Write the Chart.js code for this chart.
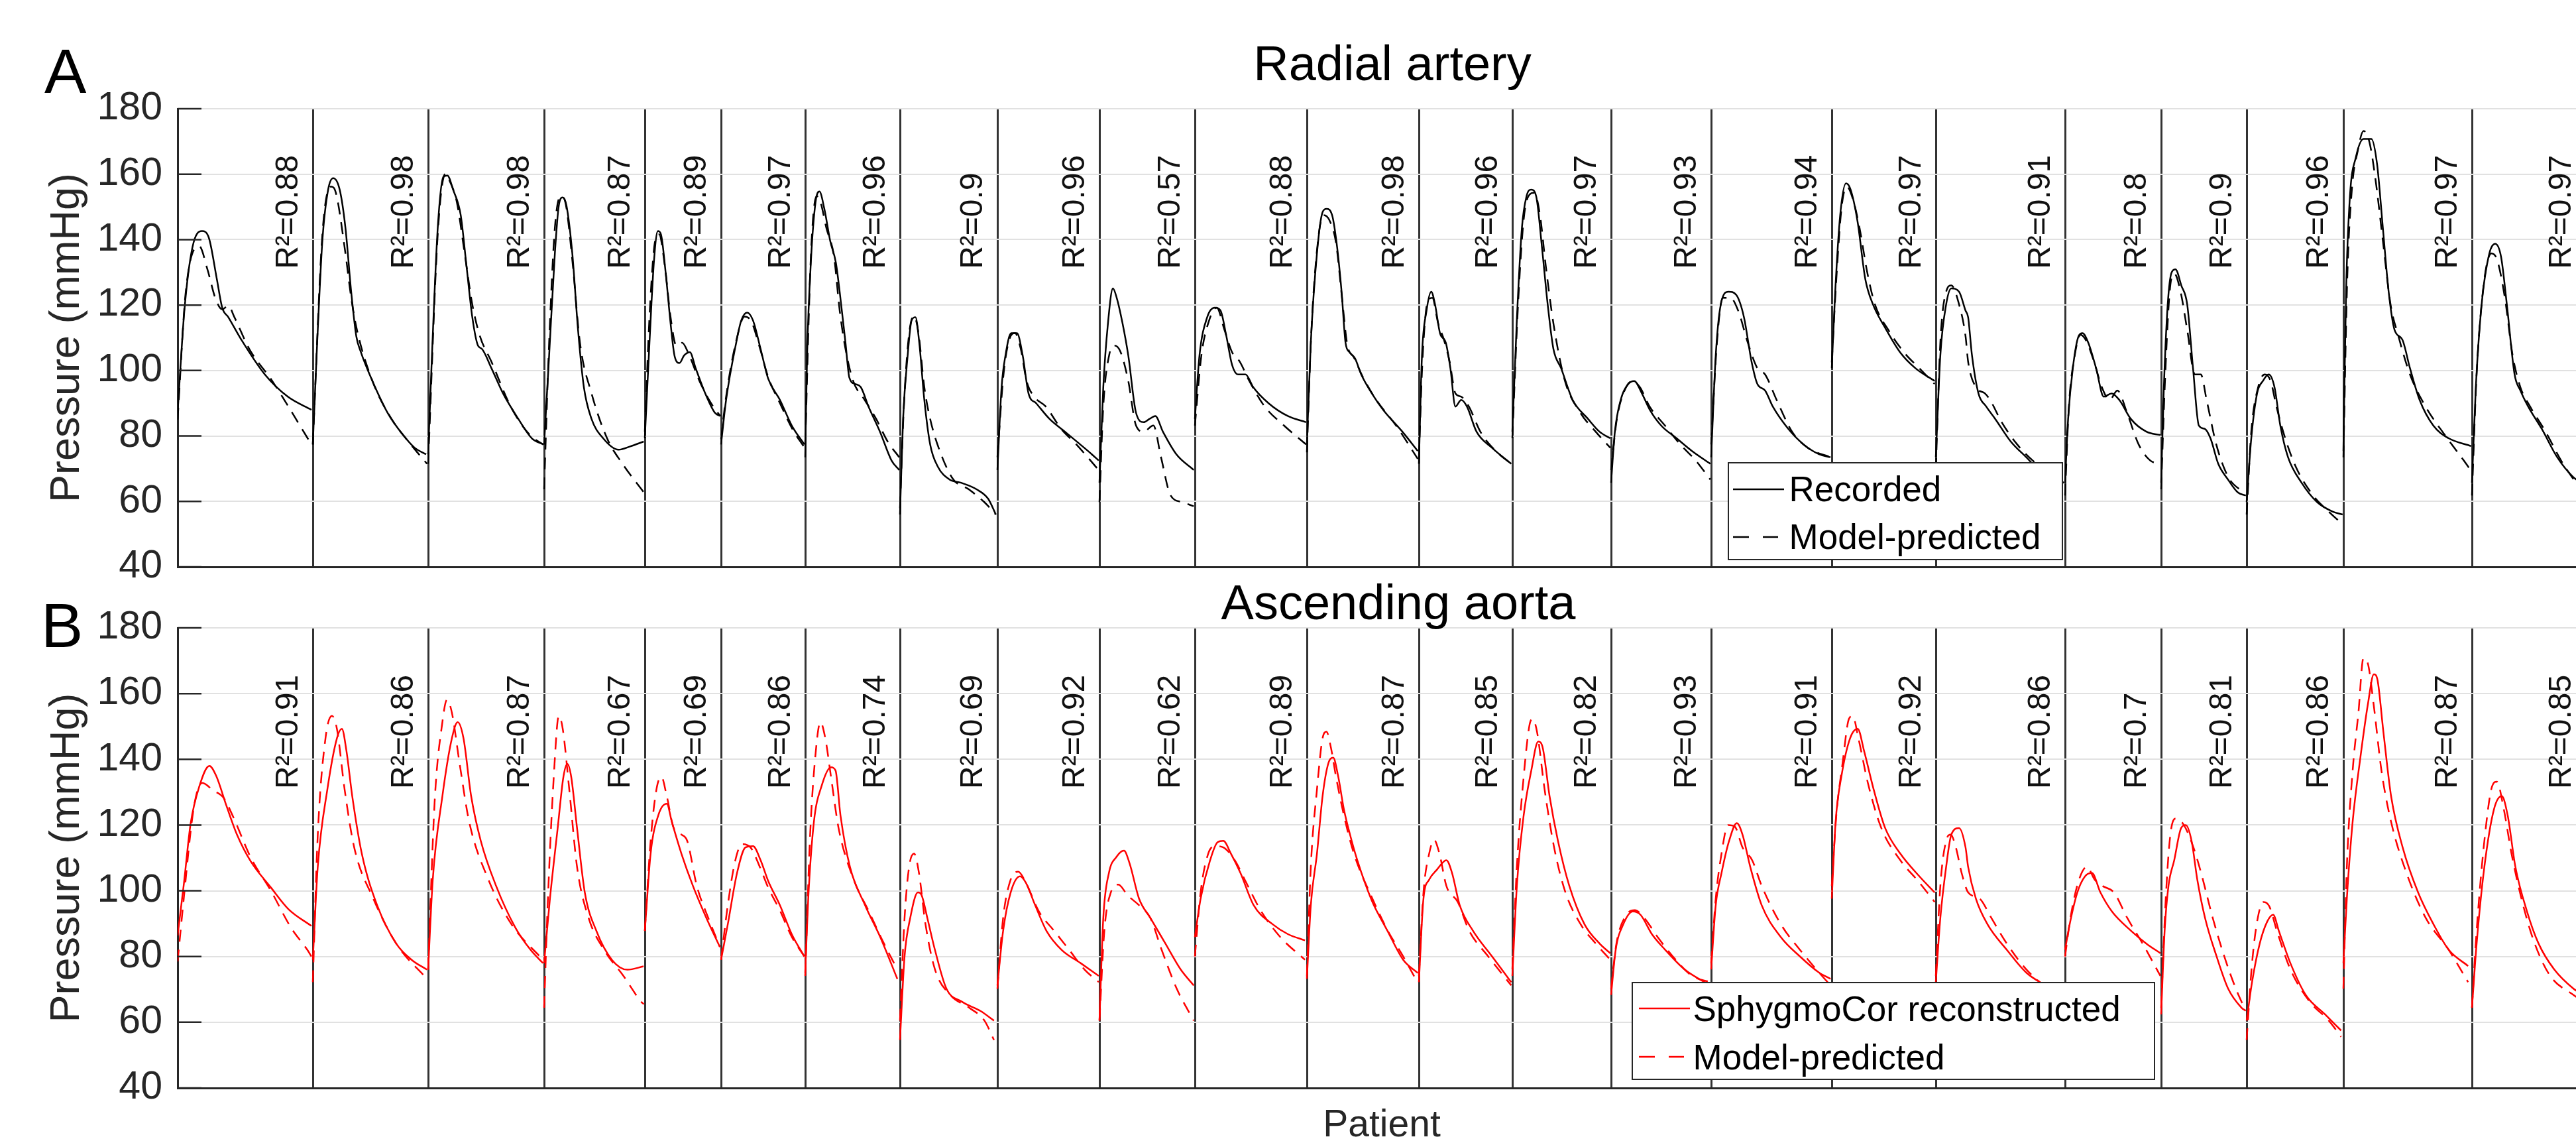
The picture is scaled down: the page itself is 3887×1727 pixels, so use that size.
<!DOCTYPE html>
<html lang="en">
<head>
    <meta charset="UTF-8">
    <title>Radial artery and ascending aorta pressure waveforms</title>
    <script src="https://cdn.jsdelivr.net/npm/chart.js"></script>
    <style>
        html, body { margin: 0; padding: 0; background: #fff; overflow: hidden; }
        body { width: 3887px; height: 1727px; position: relative; font-family: 'Liberation Sans', Arial, sans-serif; }
        canvas { position: absolute; left: 0; }
        #chart-a { top: 0; }
        #chart-b { top: 860px; }
        .panel-letter { position: absolute; font-size: 95px; line-height: 95px; color: #000; }
        .panel-title { position: absolute; font-size: 74px; line-height: 74px; color: #000; transform: translateX(-50%); white-space: nowrap; }
        .legend { position: absolute; background: #fff; border: 2.5px solid #262626; box-sizing: border-box; z-index: 2; }
        .legend .row { position: absolute; height: 53px; line-height: 53px; font-size: 53px; white-space: nowrap; color: #000; }
        .legend svg { position: absolute; }
    </style>
</head>
<body>
    <canvas id="chart-a" width="3912" height="900" style="width:3912px;height:900px"></canvas>
    <canvas id="chart-b" width="3912" height="867" style="width:3912px;height:867px"></canvas>

    <div class="panel-letter" style="left:67px;top:60px">A</div>
    <div class="panel-letter" style="left:62px;top:896px">B</div>
    <div class="panel-title" style="left:2101px;top:59px">Radial artery</div>
    <div class="panel-title" style="left:2110px;top:872px">Ascending aorta</div>

    <!-- legends sit inside the plot, like the original -->
    <div class="legend" style="left:2607px;top:697px;width:506px;height:148px">
        <svg style="left:5.5px;top:35.5px" width="77" height="6"><line x1="0" y1="3" x2="77" y2="3" stroke="#000" stroke-width="2.5"/></svg>
        <div class="row" style="left:90.5px;top:12px">Recorded</div>
        <svg style="left:5.5px;top:107.5px" width="77" height="6"><line x1="0" y1="3" x2="68" y2="3" stroke="#000" stroke-width="2.5" stroke-dasharray="24 21"/></svg>
        <div class="row" style="left:90.5px;top:84px">Model-predicted</div>
    </div>
    <div class="legend" style="left:2462px;top:1481px;width:790px;height:148px">
        <svg style="left:8.5px;top:35px" width="77" height="6"><line x1="0" y1="3" x2="77" y2="3" stroke="#ff0000" stroke-width="2.5"/></svg>
        <div class="row" style="left:90.5px;top:11.5px">SphygmoCor reconstructed</div>
        <svg style="left:8.5px;top:108px" width="77" height="6"><line x1="0" y1="3" x2="68" y2="3" stroke="#ff0000" stroke-width="2.5" stroke-dasharray="24 21"/></svg>
        <div class="row" style="left:90.5px;top:84.5px">Model-predicted</div>
    </div>

    <script>
        // width of each patient's beat on the x axis (no units shown)
        const beatWidths = [204, 174, 175, 152, 115, 127, 143, 147, 154, 144, 169, 169, 141, 149, 151, 182, 157, 195, 145, 129, 146, 194, 172];
        const pressureTicks = [40, 60, 80, 100, 120, 140, 160, 180];
        const radialR2 = [0.88, 0.98, 0.98, 0.87, 0.89, 0.97, 0.96, 0.9, 0.96, 0.57, 0.88, 0.98, 0.96, 0.97, 0.93, 0.94, 0.97, 0.91, 0.8, 0.9, 0.96, 0.97, 0.97];
        const aorticR2 = [0.91, 0.86, 0.87, 0.67, 0.69, 0.86, 0.74, 0.69, 0.92, 0.62, 0.89, 0.87, 0.85, 0.82, 0.93, 0.91, 0.92, 0.86, 0.7, 0.81, 0.86, 0.87, 0.85];

        // one list per patient: [fraction of beat, pressure mmHg]
        const radialRecorded = [
            [[0,87.1],[.05,118.3],[.11,137.7],[.18,142.6],[.23,140.7],[.29,128],[.33,119.2],[.375,116.3],[.47,109.5],[.645,98.8],[.815,92],[.99,88]],
            [[0,77.4],[.033,104.6],[.083,139.7],[.133,155.3],[.177,158.8],[.233,155.3],[.283,143.6],[.333,124],[.377,110.5],[.417,105.6],[.517,96.8],[.65,87],[.783,80.3],[.883,76.4],[.983,74.4]],
            [[0,74.4],[.033,104.6],[.083,143.6],[.132,159.2],[.166,159.6],[.215,155.3],[.281,147.5],[.331,131.9],[.381,116.3],[.43,107.6],[.464,106.6],[.546,100.7],[.646,93],[.778,85.2],[.894,79.3],[.993,77.4]],
            [[0,77.4],[.05,104.6],[.107,135.8],[.146,150.4],[.184,152.9],[.222,150.4],[.28,135.8],[.337,112.4],[.395,94.9],[.471,85.2],[.586,79.3],[.739,75.8],[.854,76.8],[.989,78.3]],
            [[0,79.3],[.061,108.5],[.121,133.8],[.172,142.6],[.212,141.6],[.273,130],[.338,114.4],[.389,104.6],[.455,102.3],[.515,104.6],[.591,105.6],[.667,100.7],[.793,93],[.919,87.1],[.99,86.1]],
            [[0,77.4],[.06,91],[.18,108.5],[.24,115.3],[.31,117.7],[.38,115.3],[.47,106.6],[.56,97.5],[.70,91],[.84,83.2],[.99,77.4]],
            [[0,73.5],[.02,104.6],[.061,133.8],[.109,151.4],[.15,154.7],[.202,149.4],[.263,139.7],[.324,132.9],[.364,124],[.425,108.5],[.466,97.8],[.526,95.9],[.587,94.9],[.668,89],[.789,81.3],[.911,72.5],[.992,69.6]],
            [[0,56],[.032,85.2],[.079,104.6],[.119,115.3],[.159,116.3],[.198,108.5],[.25,91],[.31,77.4],[.389,70.6],[.508,66.7],[.627,65.7],[.786,63.7],[.905,60.8],[.984,56]],
            [[0,69.6],[.041,94.9],[.079,104.6],[.135,111.4],[.192,111.4],[.248,104.6],[.305,93],[.38,90],[.511,85.2],[.662,81.3],[.812,77.4],[.925,74.4],[.992,72.5]],
            [[0,65.7],[.04,94.9],[.089,114.4],[.141,125.1],[.181,122.2],[.242,114.4],[.302,104.6],[.383,87.1],[.464,84.2],[.524,85.2],[.585,86.1],[.665,81.3],[.806,74.4],[.988,69.6]],
            [[0,85.2],[.041,104.6],[.11,116.3],[.178,119.2],[.229,118.3],[.281,110.5],[.332,101.7],[.384,98.8],[.452,98.8],[.521,94.9],[.658,90],[.829,86.1],[.993,84.2]],
            [[0,77.4],[.035,108.5],[.09,135.8],[.14,148.4],[.175,149.4],[.225,147.5],[.27,137.7],[.31,124],[.345,108.5],[.38,105.6],[.43,103.7],[.485,98.8],[.58,93],[.68,88],[.86,81],[.99,75.4]],
            [[0,71.5],[.033,104.6],[.082,118.3],[.132,124.1],[.173,120.2],[.226,111.4],[.288,108.5],[.337,100.7],[.391,89],[.453,91],[.514,89],[.617,81.3],[.782,76.4],[.988,71.5]],
            [[0,81.3],[.047,116.3],[.097,143.6],[.144,153.3],[.191,155.3],[.241,153.3],[.3,137.7],[.358,120.2],[.416,106.6],[.494,100.7],[.611,91],[.767,85.2],[.883,81.3],[.992,79.3]],
            [[0,65.7],[.038,81.3],[.096,91],[.173,95.9],[.231,96.8],[.308,93],[.385,88.1],[.5,83.2],[.654,79.3],[.808,75.4],[.992,71.5]],
            [[0,73.5],[.038,104.6],[.08,120.2],[.144,124.1],[.208,123.1],[.272,116.3],[.335,102.7],[.383,95.9],[.447,93.9],[.511,89],[.639,82.2],[.767,77.4],[.895,74.4],[.99,73.5]],
            [[0,100.7],[.033,124],[.081,147.5],[.137,157.2],[.181,155.3],[.248,145.5],[.322,128],[.396,120.2],[.507,113.4],[.656,105.6],[.804,100.7],[.989,96.8]],
            [[0,73.5],[.035,104.6],[.08,120.2],[.12,125.1],[.18,124.1],[.23,118.3],[.25,116.3],[.28,104.6],[.33,93],[.39,89],[.46,85.2],[.58,78.3],[.70,73.5],[.85,67.6],[.99,65.7]],
            [[0,65.7],[.032,85.2],[.081,100.7],[.141,110.5],[.181,111.4],[.242,108.5],[.323,100.7],[.403,92],[.484,93],[.565,91],[.685,85.2],[.847,81.3],[.992,80.3]],
            [[0,65.7],[.032,94.9],[.077,120.2],[.123,130],[.168,130.9],[.236,126],[.305,120.2],[.373,100.7],[.441,83.2],[.509,82.2],[.577,79.3],[.668,71.5],[.782,66.7],[.895,62.8],[.991,61.8]],
            [[0,59.8],[.048,79.3],[.108,93],[.168,96.8],[.228,98.8],[.288,94.9],[.348,83.2],[.428,73.5],[.568,65.7],[.728,59.8],[.888,56.9],[.992,56]],
            [[0,75.4],[.021,124.1],[.051,153.3],[.096,165],[.157,170.8],[.217,170.8],[.262,163.1],[.307,143.6],[.352,124.1],[.398,112.4],[.458,109.5],[.518,100.7],[.593,91],[.699,83.2],[.819,79.3],[.994,76.9]],
            [[0,65.7],[.034,94.9],[.085,120.2],[.153,135.8],[.204,138.7],[.255,134.8],[.306,120.2],[.374,98.8],[.425,93.9],[.493,89],[.612,82.2],[.748,73.5],[.884,67.6],[.99,65]]
        ];

        const radialModel = [
            [[0,85],[.06,124],[.16,138],[.22,131],[.28,122],[.33,118.7],[.375,119.8],[.42,116.3],[.53,106.6],[.70,96.8],[.99,77.4]],
            [[0,77.4],[.083,141.6],[.157,156.2],[.2,154.3],[.283,135.8],[.333,122.2],[.383,112.4],[.517,96.8],[.683,85.2],[.85,77.4],[.99,71.5]],
            [[0,71.5],[.083,141.6],[.149,160.1],[.182,158.2],[.248,151.4],[.315,135.8],[.381,120.2],[.447,110.5],[.546,102.7],[.712,89],[.877,80.3],[.993,77.4]],
            [[0,63.7],[.05,108.5],[.107,143.6],[.165,153.3],[.211,151.4],[.28,133.8],[.356,108.5],[.471,93],[.625,79.3],[.778,71.5],[.989,62.8]],
            [[0,81.3],[.061,116.3],[.136,139.7],[.187,141.6],[.263,131.9],[.338,116.3],[.414,107.6],[.49,108.5],[.566,105.6],[.717,96.8],[.869,90],[.99,86.1]],
            [[0,79],[.06,92],[.18,109],[.28,116.5],[.36,115],[.46,107],[.56,98],[.70,90],[.85,82],[.99,76.5]],
            [[0,77.4],[.061,135.8],[.121,153.3],[.162,151.4],[.223,143.6],[.304,134.8],[.364,118.3],[.425,106.6],[.506,96.8],[.628,91],[.749,85.2],[.87,78.3],[.992,73.5]],
            [[0,57.9],[.04,89],[.091,110.5],[.143,116.7],[.19,111.4],[.25,94.9],[.31,85.2],[.409,75.4],[.548,66.7],[.706,63.7],[.865,59.8],[.984,56]],
            [[0,73.5],[.06,98.8],[.117,109.5],[.173,111.4],[.229,106.6],[.286,96.8],[.361,92],[.474,89],[.624,82.2],[.774,77.4],[.992,69.6]],
            [[0,59.8],[.04,89],[.101,104.6],[.161,107.6],[.222,105.6],[.302,96.8],[.383,83.2],[.464,81.3],[.565,83.2],[.645,73.5],[.746,61.8],[.867,59.8],[.988,58.5]],
            [[0,83.2],[.058,104.6],[.127,115.3],[.195,119.2],[.264,112.4],[.332,105.6],[.401,102.7],[.486,96.8],[.623,89],[.795,83.2],[.993,77.4]],
            [[0,75],[.04,112],[.10,140],[.15,147.5],[.20,146],[.26,139],[.32,120],[.36,108],[.42,104],[.50,98],[.62,91],[.80,83],[.99,73]],
            [[0,73.5],[.041,104.6],[.095,121.2],[.144,122.2],[.206,114.4],[.267,109.5],[.329,102.7],[.391,93],[.453,92],[.535,89],[.658,81.3],[.823,75.4],[.988,71.5]],
            [[0,79.3],[.058,120.2],[.113,145.6],[.163,153.3],[.222,154.3],[.28,147.5],[.339,131.9],[.416,114.4],[.533,96.8],[.689,87.1],[.844,81.3],[.992,76.4]],
            [[0,69.6],[.058,85.2],[.135,93.9],[.212,96.8],[.288,94.9],[.385,89],[.538,83.2],[.692,77.4],[.846,72.5],[.992,66.7]],
            [[0,77.4],[.048,108.5],[.096,122.2],[.16,122.2],[.224,118.3],[.304,108.5],[.383,100.7],[.447,98.8],[.543,91],[.671,81.3],[.799,76.4],[.99,73.5]],
            [[0,102.5],[.044,128],[.093,149.4],[.144,156.2],[.204,152.3],[.267,143.6],[.341,130],[.415,120.2],[.544,112.4],[.693,105.6],[.841,100.7],[.989,95.9]],
            [[0,69.6],[.035,108.5],[.08,124.1],[.12,126],[.18,120.2],[.23,110.5],[.25,102.7],[.31,94.9],[.38,93],[.42,91],[.51,84.2],[.63,77.4],[.75,72.5],[.99,65.7]],
            [[0,61.8],[.04,89],[.101,104.6],[.161,110.9],[.222,109],[.302,102.7],[.383,94.9],[.464,91],[.544,93.9],[.645,87.1],[.766,77.4],[.887,72.5],[.992,71.5]],
            [[0,63.7],[.045,96.8],[.1,124.1],[.155,129.6],[.227,124.1],[.305,112.4],[.395,98.8],[.464,98.8],[.532,91],[.645,77.4],[.782,67.6],[.918,63.7],[.991,62.8]],
            [[0,56],[.048,81.3],[.12,95],[.188,98.8],[.248,96.8],[.308,89],[.388,80.3],[.508,70.6],[.688,61.8],[.848,56.9],[.992,53]],
            [[0,73.5],[.03,128],[.066,155.3],[.111,167],[.157,173.2],[.202,169.9],[.247,159.2],[.307,139.7],[.367,120.2],[.428,110.5],[.518,98.8],[.639,89],[.789,80.3],[.955,71.5],[.99,69.5]],
            [[0,61.8],[.041,98.8],[.102,126],[.17,135.8],[.221,133.8],[.289,122.2],[.357,104.6],[.425,94.9],[.51,89],[.646,81.3],[.782,72.5],[.912,65.7],[.99,62]]
        ];

        const aorticRecon = [
            [[0,86.4],[.046,102],[.096,120.4],[.16,131.7],[.235,138],[.285,135],[.36,126],[.44,117],[.54,109],[.69,101],[.82,94.4],[.99,89.3]],
            [[0,79],[.043,107.3],[.126,130.8],[.209,146.4],[.252,149.3],[.292,142.5],[.342,128.8],[.425,111.3],[.558,95.6],[.724,83.9],[.857,79],[.99,76]],
            [[0,76],[.04,103.4],[.123,128.8],[.205,146.4],[.255,151.3],[.305,146.4],[.371,128.8],[.454,115.2],[.586,101.5],[.752,88.8],[.884,82],[.99,78]],
            [[0,78],[.058,97.6],[.135,119.1],[.192,134.7],[.231,138.6],[.269,134.7],[.327,119.1],[.404,99.5],[.519,87.8],[.673,79],[.827,76],[.988,77]],
            [[0,87.8],[.076,111.3],[.177,123],[.288,126.5],[.354,121],[.48,111.3],[.631,101.5],[.808,91.7],[.985,82.9]],
            [[0,79],[.08,89.8],[.19,105.4],[.29,113.2],[.38,113.6],[.47,109.3],[.56,103],[.70,95.6],[.84,86.8],[.99,80]],
            [[0,75.1],[.032,97.6],[.092,121],[.172,131.8],[.272,137.6],[.32,136.6],[.372,123],[.472,107.3],[.632,95.6],[.792,85.9],[.972,73.2]],
            [[0,54.6],[.047,80],[.105,91.7],[.184,99.5],[.223,98.6],[.281,91.7],[.359,82],[.477,70.2],[.633,66.3],[.828,63.4],[.965,60.5]],
            [[0,71.2],[.056,87.8],[.13,99.5],[.222,104.4],[.278,102.5],[.37,95.6],[.481,87.8],[.63,82],[.815,78],[.993,74.1]],
            [[0,60.5],[.04,91.7],[.099,105.4],[.178,110.3],[.257,112.2],[.316,108.3],[.415,97.6],[.534,91.7],[.692,83.9],[.85,76.1],[.988,71.2]],
            [[0,85.9],[.051,97.6],[.136,109.3],[.203,114.8],[.254,115.2],[.322,111.3],[.407,105.4],[.525,95.6],[.695,89.8],[.831,86.8],[.983,84.9]],
            [[0,73.2],[.035,95.6],[.09,111.3],[.14,128.8],[.19,138.6],[.235,140.5],[.28,134.7],[.33,124.9],[.385,117.1],[.45,109.3],[.58,97],[.72,87.8],[.86,79],[.99,75]],
            [[0,72.2],[.049,97.6],[.11,103.4],[.192,106.4],[.294,109.3],[.355,105.4],[.437,95.6],[.58,87.8],[.784,80],[.988,72.2]],
            [[0,74.1],[.046,101.5],[.115,123],[.192,136.6],[.262,145.4],[.308,143.5],[.377,128.8],[.462,115.2],[.577,101.5],[.731,89.8],[.885,83.9],[.992,81]],
            [[0,68.3],[.046,82],[.122,89.8],[.218,93.7],[.294,92.7],[.408,86.8],[.542,82],[.733,76.1],[.992,71.2]],
            [[0,76.1],[.038,95.6],[.086,105.4],[.149,115.2],[.213,120.6],[.26,117.1],[.324,107.3],[.419,95.6],[.578,85.9],[.737,80],[.895,75.1],[.99,73.2]],
            [[0,97.6],[.037,121],[.092,134.7],[.176,146.4],[.249,149.3],[.311,142.5],[.403,130.8],[.513,119.1],[.659,111.3],[.842,104.4],[.989,99.5]],
            [[0,72.2],[.035,91.7],[.08,107.3],[.12,117.1],[.18,119.1],[.23,113.2],[.25,107.3],[.31,97.6],[.40,89.8],[.55,82],[.70,75.1],[.85,71.2],[.99,68.3]],
            [[0,82],[.048,89.8],[.128,99.5],[.208,104.4],[.28,105.4],[.368,99.5],[.488,93.7],[.688,87.8],[.848,83.9],[.992,81]],
            [[0,62.4],[.041,87.8],[.086,101.5],[.153,109.3],[.234,119.1],[.288,120],[.356,115.2],[.423,103.4],[.514,91.7],[.649,80],[.784,70.2],[.941,64.4],[.99,63.5]],
            [[0,60.5],[.056,72.2],[.135,83.9],[.214,90.7],[.274,92.7],[.333,87.8],[.452,78],[.611,68.3],[.81,62.4],[.976,57.5]],
            [[0,78],[.027,97.6],[.072,121],[.132,140.5],[.192,157.1],[.237,165.9],[.266,164],[.311,148.4],[.371,128.8],[.461,113.2],[.581,99.5],[.701,89.8],[.82,82],[.97,77.1]],
            [[0,64.4],[.041,83.9],[.109,107.3],[.194,124.9],[.262,128.8],[.313,123],[.381,107.3],[.483,93.7],[.585,83.9],[.721,76.1],[.891,70.2],[.99,68]]
        ];

        const aorticModel = [
            [[0,78.5],[.046,97.8],[.11,122.6],[.15,131],[.185,132.8],[.26,130.6],[.34,128.3],[.41,122.6],[.54,110.2],[.69,100],[.84,88.7],[.96,82],[.99,80]],
            [[0,72.2],[.043,117],[.11,146.4],[.166,153.2],[.209,149.3],[.276,130.8],[.359,113.2],[.525,97.6],[.724,83.9],[.99,73.2]],
            [[0,76],[.056,126.9],[.123,151.3],[.162,158.1],[.205,154.2],[.272,138.6],[.354,121],[.52,103.4],[.719,89.8],[.99,79]],
            [[0,64.4],[.038,97.6],[.096,134.7],[.146,153.2],[.185,149.3],[.25,130.8],[.327,107.3],[.442,91.7],[.596,82],[.788,74.1],[.962,66.3],[.99,65.5]],
            [[0,87.8],[.076,115.2],[.152,130.8],[.217,134.7],[.288,128.8],[.379,119.1],[.48,117.1],[.556,115.2],[.682,101.5],[.833,91.7],[.985,82.9]],
            [[0,79],[.08,95.6],[.17,109.3],[.25,114.2],[.35,113.2],[.46,107.3],[.56,101],[.70,94],[.84,86],[.99,80]],
            [[0,74.1],[.052,117.1],[.112,142.5],[.16,151.3],[.212,146.4],[.272,134.7],[.352,119.1],[.512,103.4],[.672,93.7],[.832,83.9],[.972,76.1]],
            [[0,60.5],[.047,91.7],[.094,107.3],[.145,111.3],[.195,105.4],[.262,89.8],[.359,76.1],[.516,68.3],[.711,64.4],[.867,60.5],[.965,54.6]],
            [[0,70.2],[.056,91.7],[.13,103.4],[.204,105.8],[.278,102.5],[.407,93.7],[.556,87.8],[.704,82],[.852,76.1],[.993,72.2]],
            [[0,60.5],[.051,87.8],[.119,99.5],[.198,101.9],[.296,98.6],[.415,95.6],[.534,91.7],[.652,82],[.81,70.2],[.988,60.5]],
            [[0,80],[.051,99.5],[.119,111.3],[.186,113.6],[.254,113.2],[.356,109.3],[.458,102.5],[.593,93.7],[.763,85.9],[.983,79]],
            [[0,74],[.035,107.3],[.09,130.8],[.14,146.4],[.175,148.4],[.215,143.5],[.26,134.7],[.33,123],[.42,111.3],[.58,98],[.72,88],[.86,80],[.99,72]],
            [[0,74.1],[.049,99.5],[.11,111.3],[.163,115.5],[.22,111.3],[.294,101.5],[.416,96.6],[.539,87.8],[.743,80],[.988,71.2]],
            [[0,76.1],[.046,107.3],[.115,134.7],[.173,150.3],[.204,152.3],[.25,148.4],[.327,130.8],[.423,113.2],[.538,99.5],[.692,89.8],[.846,83.9],[.992,79]],
            [[0,70.2],[.053,83.9],[.141,92.1],[.237,94.1],[.332,91.7],[.466,85.9],[.618,80],[.809,74.1],[.992,72.2]],
            [[0,78],[.038,97.6],[.086,111.3],[.14,120],[.197,119.5],[.26,113.2],[.34,109.3],[.419,101.5],[.578,89.8],[.737,82],[.895,75.1],[.99,71.2]],
            [[0,101.5],[.044,123],[.103,138.6],[.165,152.3],[.201,153.2],[.256,146.4],[.348,132.7],[.476,119.1],[.659,109.3],[.842,102.5],[.989,96.6]],
            [[0,74.1],[.035,101.5],[.08,115.2],[.115,117.1],[.155,113.2],[.20,105.4],[.25,99.5],[.34,97.6],[.43,91.7],[.55,83.9],[.70,76.1],[.99,66.3]],
            [[0,80],[.056,91.7],[.136,102.5],[.228,107.3],[.308,103.4],[.388,101.5],[.508,99.5],[.648,91.7],[.808,83.9],[.992,74.1]],
            [[0,64.4],[.054,97.6],[.108,117.1],[.176,122],[.266,120],[.378,113.2],[.468,105.4],[.604,91.7],[.739,80],[.874,70.2],[.973,64.4]],
            [[0,54.6],[.056,78],[.115,91.7],[.175,96.6],[.234,95.3],[.313,87.8],[.452,76.1],[.651,66.3],[.849,60.5],[.976,55.6]],
            [[0,70.2],[.027,107.3],[.072,136.6],[.117,154.2],[.156,170.8],[.192,168.9],[.237,156.2],[.296,136.6],[.371,121],[.491,105.4],[.641,91.7],[.82,82],[.97,72.2]],
            [[0,64.4],[.041,87.8],[.109,115.2],[.177,131.8],[.218,133.2],[.279,124.9],[.347,111.3],[.449,95.6],[.551,83.9],[.687,74.1],[.891,68.3],[.99,66]]
        ];

        // end of every beat, used for the separator lines and the R² labels
        const beatEnds = [];
        beatWidths.reduce((sum, w) => { beatEnds.push(sum + w); return sum + w; }, 0);
        const xMax = beatEnds[beatEnds.length - 1];

        // concatenate the beats, with a gap between patients so each beat is its own curve
        function buildSeries(beats) {
            const pts = [];
            let start = 0;
            beats.forEach((beat, i) => {
                beat.forEach(([f, p]) => pts.push({ x: start + f * beatWidths[i], y: p }));
                start += beatWidths[i];
                pts.push({ x: start, y: null });
            });
            return pts;
        }

        Chart.defaults.font.family = "'Liberation Sans', Arial, sans-serif";

        // MATLAB-style tick marks pointing into the plot
        const inwardTicks = {
            id: 'inwardTicks',
            afterDatasetsDraw(chart) {
                const { ctx, chartArea, scales: { y } } = chart;
                ctx.save();
                ctx.strokeStyle = '#262626';
                ctx.lineWidth = 2.5;
                y.ticks.forEach(t => {
                    const py = y.getPixelForValue(t.value);
                    ctx.beginPath();
                    ctx.moveTo(chartArea.left, py);
                    ctx.lineTo(chartArea.left + 36, py);
                    ctx.stroke();
                });
                ctx.restore();
            }
        };

        // rotated R² text just left of each separator
        const r2Labels = {
            id: 'r2Labels',
            afterDatasetsDraw(chart, args, opts) {
                const { ctx, scales: { x, y } } = chart;
                ctx.save();
                ctx.font = "48px 'Liberation Sans', Arial, sans-serif";
                ctx.fillStyle = '#111';
                ctx.textAlign = 'left';
                ctx.textBaseline = 'middle';
                opts.values.forEach((v, i) => {
                    const px = x.getPixelForValue(beatEnds[i]) - 36;
                    const py = y.getPixelForValue(opts.anchor);
                    ctx.save();
                    ctx.translate(px, py);
                    ctx.rotate(-Math.PI / 2);
                    ctx.fillText('R\u00b2=' + v, 0, 0);
                    ctx.restore();
                });
                ctx.restore();
            }
        };

        function makeChart(id, cfg) {
            return new Chart(document.getElementById(id), {
                type: 'line',
                data: {
                    datasets: [
                        { label: cfg.names[0], data: buildSeries(cfg.solid), borderColor: cfg.color, borderWidth: 2.5 },
                        { label: cfg.names[1], data: buildSeries(cfg.dashed), borderColor: cfg.color, borderWidth: 2.5, borderDash: [18, 12] }
                    ]
                },
                plugins: [inwardTicks, r2Labels],
                options: {
                    responsive: false,
                    devicePixelRatio: 1,
                    animation: false,
                    events: [],
                    spanGaps: false,
                    layout: { padding: { top: cfg.top, right: 10, left: 0, bottom: 0 } },
                    elements: {
                        point: { radius: 0 },
                        line: { cubicInterpolationMode: 'monotone', fill: false }
                    },
                    plugins: {
                        legend: { display: false },
                        tooltip: { enabled: false },
                        r2Labels: { values: cfg.r2, anchor: 131 }
                    },
                    scales: {
                        x: {
                            type: 'linear',
                            min: 0,
                            max: xMax,
                            afterBuildTicks: s => { s.ticks = beatEnds.map(v => ({ value: v })); },
                            afterFit: s => { s.height = cfg.xHeight; s.paddingLeft = 0; s.paddingRight = 0; },
                            ticks: { display: false },
                            grid: { color: '#333', lineWidth: 3, drawTicks: false },
                            border: { display: true, color: '#262626', width: 3 },
                            title: {
                                display: !!cfg.xTitle,
                                text: cfg.xTitle || '',
                                color: '#262626',
                                font: { size: 57, lineHeight: 1 },
                                padding: { top: 0, bottom: 0 }
                            }
                        },
                        y: {
                            min: 40,
                            max: 180,
                            afterBuildTicks: s => { s.ticks = pressureTicks.map(v => ({ value: v })); },
                            afterFit: s => { s.width = 268; s.paddingTop = 0; s.paddingBottom = 0; },
                            ticks: { color: '#262626', font: { size: 59 }, padding: 23 },
                            grid: { color: '#e1e1e1', lineWidth: 2, drawTicks: false },
                            border: { display: true, color: '#262626', width: 3 },
                            title: {
                                display: true,
                                text: 'Pressure (mmHg)',
                                color: '#262626',
                                font: { size: 63, lineHeight: 1.2 },
                                padding: { top: 64, bottom: 0 }
                            }
                        }
                    }
                }
            });
        }

        makeChart('chart-a', {
            names: ['Recorded', 'Model-predicted'],
            solid: radialRecorded,
            dashed: radialModel,
            color: '#000000',
            r2: radialR2,
            top: 164,
            xHeight: 45
        });

        makeChart('chart-b', {
            names: ['SphygmoCor reconstructed', 'Model-predicted'],
            solid: aorticRecon,
            dashed: aorticModel,
            color: '#ff0000',
            r2: aorticR2,
            top: 87,
            xHeight: 86,
            xTitle: 'Patient'
        });
    </script>
</body>
</html>
